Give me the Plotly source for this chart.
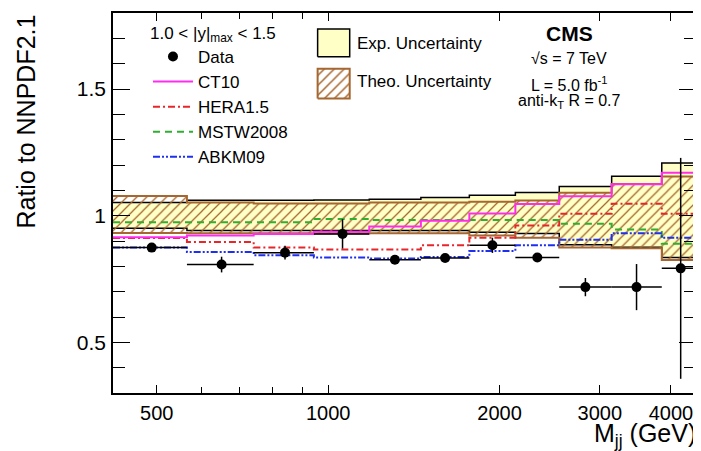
import numpy as np
import plotly.graph_objects as go

# ---------------- data ----------------
bin_edges = [419, 565, 740, 944, 1181, 1455, 1770, 2132, 2546, 3147, 3854, 4509]
data_x = [490, 650, 840, 1060, 1310, 1605, 1943, 2330, 2830, 3480, 4160]
data_y = [0.874, 0.807, 0.854, 0.928, 0.826, 0.833, 0.883, 0.835, 0.718, 0.718, 0.792]
data_yerr = [0.012, 0.031, 0.027, 0.058, 0.012, 0.014, 0.030, 0.014, 0.036, 0.091, 0.436]

ct10 = [0.915, 0.922, 0.928, 0.937, 0.957, 0.980, 1.009, 1.046, 1.077, 1.124, 1.169]
hera15 = [0.912, 0.896, 0.874, 0.866, 0.866, 0.883, 0.913, 0.961, 1.008, 1.047, 1.008]
mstw2008 = [0.974, 0.974, 0.974, 0.987, 0.983, 0.983, 0.983, 0.983, 0.968, 0.945, 0.889]
abkm09 = [0.874, 0.857, 0.844, 0.835, 0.831, 0.837, 0.861, 0.883, 0.905, 0.931, 0.913]

exp_hi = [1.052, 1.061, 1.061, 1.062, 1.065, 1.072, 1.081, 1.091, 1.115, 1.156, 1.208]
exp_lo = [0.950, 0.941, 0.941, 0.941, 0.941, 0.941, 0.935, 0.930, 0.885, 0.875, 0.835]
theo_hi = [1.078, 1.052, 1.048, 1.048, 1.052, 1.052, 1.055, 1.060, 1.090, 1.125, 1.155]
theo_lo = [0.932, 0.931, 0.931, 0.930, 0.931, 0.931, 0.922, 0.913, 0.874, 0.871, 0.825]

x_tickvals = [500, 1000, 2000, 3000, 4000]
x_ticktext = ["500", "1000", "2000", "3000", "4000"]
x_minor_tickvals = [600, 700, 800, 900]
y_tickvals = [0.5, 1.0, 1.5]
y_ticktext = ["0.5", "1", "1.5"]
y_fine_tickvals = [round(0.35 + 0.1 * i, 2) for i in range(15)]

FONT = "Liberation Sans, Arial, Helvetica, sans-serif"
BROWN = "#a5672f"
YELLOW = "#ffffc6"


def step(vals):
    return list(vals) + [vals[-1]]


fig = go.Figure()

# Experimental uncertainty band
fig.add_trace(go.Scatter(x=bin_edges, y=step(exp_lo), mode="lines", line_shape="hv",
                         line=dict(color="black", width=1.5), showlegend=False, hoverinfo="skip"))
fig.add_trace(go.Scatter(x=bin_edges, y=step(exp_hi), mode="lines", line_shape="hv",
                         line=dict(color="black", width=1.5), fill="tonexty", fillcolor=YELLOW,
                         showlegend=False, hoverinfo="skip"))
# Theory uncertainty band (hatched)
fig.add_trace(go.Scatter(x=bin_edges, y=step(theo_lo), mode="lines", line_shape="hv",
                         line=dict(color=BROWN, width=2), showlegend=False, hoverinfo="skip"))
fig.add_trace(go.Scatter(x=bin_edges, y=step(theo_hi), mode="lines", line_shape="hv",
                         line=dict(color=BROWN, width=2), fill="tonexty",
                         fillpattern=dict(shape="/", fgcolor=BROWN, bgcolor="rgba(0,0,0,0)",
                                          size=7, solidity=0.18, fillmode="replace"),
                         showlegend=False, hoverinfo="skip"))

# PDF predictions
pdf_lines = [
    ("HERA1.5", hera15, "#e8262a", "7px,3px,2px,3px", 2),
    ("MSTW2008", mstw2008, "#2fae2f", "7px,5px", 3),
    ("ABKM09", abkm09, "#1f2ff0", "7px,2px,2px,2px,2px,2px", 4),
    ("CT10", ct10, "#ff2cf0", "solid", 1),
]
for name, vals, col, dash, rank in pdf_lines:
    fig.add_trace(go.Scatter(x=bin_edges, y=step(vals), mode="lines", line_shape="hv",
                             line=dict(color=col, width=2, dash=dash), name=name,
                             legendgroup=name, legendrank=rank))

# Data
err_minus = [c - lo for c, lo in zip(data_x, bin_edges[:-1])]
err_plus = [hi - c for c, hi in zip(data_x, bin_edges[1:])]
fig.add_trace(go.Scatter(x=data_x, y=data_y, mode="markers", name="Data", legendgroup="Data",
                         legendrank=0,
                         marker=dict(color="black", size=10),
                         error_x=dict(type="data", symmetric=False, array=err_plus,
                                      arrayminus=err_minus, color="black", thickness=1.5, width=0),
                         error_y=dict(type="data", array=data_yerr, color="black",
                                      thickness=1.5, width=0)))

# Legend swatches for the bands (on an invisible overlay axis, fraction of plot area)
fig.add_trace(go.Scatter(x=[0.351, 0.406, 0.406, 0.351, 0.351], y=[0.885, 0.885, 0.958, 0.958, 0.885],
                         xaxis="x2", yaxis="y2", mode="lines", fill="toself", fillcolor=YELLOW,
                         line=dict(color="black", width=1.5), showlegend=False, hoverinfo="skip"))
fig.add_trace(go.Scatter(x=[0.351, 0.406, 0.406, 0.351, 0.351], y=[0.775, 0.775, 0.853, 0.853, 0.775],
                         xaxis="x2", yaxis="y2", mode="lines", fill="toself",
                         fillpattern=dict(shape="/", fgcolor=BROWN, bgcolor="white",
                                          size=7, solidity=0.22, fillmode="replace"),
                         line=dict(color=BROWN, width=2), showlegend=False, hoverinfo="skip"))

annotations = [
    dict(text="Exp. Uncertainty", x=0.4145, y=0.919, xref="paper", yref="paper",
         xanchor="left", yanchor="middle", showarrow=False, font=dict(size=17, color="black")),
    dict(text="Theo. Uncertainty", x=0.4145, y=0.819, xref="paper", yref="paper",
         xanchor="left", yanchor="middle", showarrow=False, font=dict(size=17, color="black")),
    dict(text="<b>CMS</b>", x=0.783, y=0.945, xref="paper", yref="paper",
         xanchor="center", yanchor="middle", showarrow=False, font=dict(size=21, color="black")),
    dict(text="√s = 7 TeV", x=0.783, y=0.880, xref="paper", yref="paper",
         xanchor="center", yanchor="middle", showarrow=False, font=dict(size=16, color="black")),
    dict(text="L = 5.0 fb<sup>-1</sup>", x=0.783, y=0.814, xref="paper", yref="paper",
         xanchor="center", yanchor="middle", showarrow=False, font=dict(size=16, color="black")),
    dict(text="anti-k<sub>T</sub> R = 0.7", x=0.783, y=0.767, xref="paper", yref="paper",
         xanchor="center", yanchor="middle", showarrow=False, font=dict(size=16, color="black")),
    dict(text="Ratio to NNPDF2.1", textangle=-90, x=-0.150, y=1.0, xref="paper", yref="paper",
         xanchor="center", yanchor="top", showarrow=False, font=dict(size=25, color="black")),
    dict(text="M<sub>jj</sub> (GeV)", x=1.003, y=-0.111, xref="paper", yref="paper",
         xanchor="right", yanchor="middle", showarrow=False, font=dict(size=25, color="black")),
]

fig.update_layout(
    width=693, height=443,
    margin=dict(l=105, r=4, t=3, b=58),
    paper_bgcolor="white", plot_bgcolor="white",
    font=dict(family=FONT, color="black"),
    showlegend=True,
    legend=dict(x=0.06, y=0.99, xanchor="left", yanchor="top",
                bgcolor="rgba(0,0,0,0)", font=dict(size=17),
                title=dict(text="1.0 &lt; |y|<sub>max</sub> &lt; 1.5", font=dict(size=17)),
                tracegroupgap=2, itemwidth=40, traceorder="normal"),
    annotations=annotations,
    xaxis=dict(type="log", range=[np.log10(419), 3.646], tickvals=x_tickvals, ticktext=x_ticktext,
               ticks="inside", ticklen=8, tickwidth=1.2, tickcolor="black",
               minor=dict(tickvals=x_minor_tickvals, ticks="inside", ticklen=6, tickcolor="black",
                          tickwidth=1.2, showgrid=False),
               showline=True, linecolor="black", linewidth=1.5, mirror="allticks",
               showgrid=False, zeroline=False, tickfont=dict(size=20), ticklabelstandoff=1),
    yaxis=dict(range=[0.3, 1.8], tickvals=y_tickvals, ticktext=y_ticktext,
               ticks="inside", ticklen=17, tickwidth=1.2, tickcolor="black",
               minor=dict(dtick=0.1, tick0=0, ticks="inside", ticklen=12, tickcolor="black",
                          tickwidth=1.2, showgrid=False),
               showline=True, linecolor="black", linewidth=1.5, mirror="allticks",
               showgrid=False, zeroline=False, tickfont=dict(size=21), ticklabelstandoff=1),
    xaxis2=dict(overlaying="x", range=[0, 1], visible=False, fixedrange=True),
    yaxis2=dict(overlaying="y", range=[0, 1], visible=False, fixedrange=True),
    yaxis3=dict(overlaying="y", range=[0.3, 1.8], tickvals=y_fine_tickvals, ticks="inside",
                ticklen=7, tickwidth=1.2, tickcolor="black", showticklabels=False,
                showline=True, linecolor="black", linewidth=1.5, mirror="allticks",
                showgrid=False, zeroline=False, fixedrange=True),
)

fig.write_html("out.html")
